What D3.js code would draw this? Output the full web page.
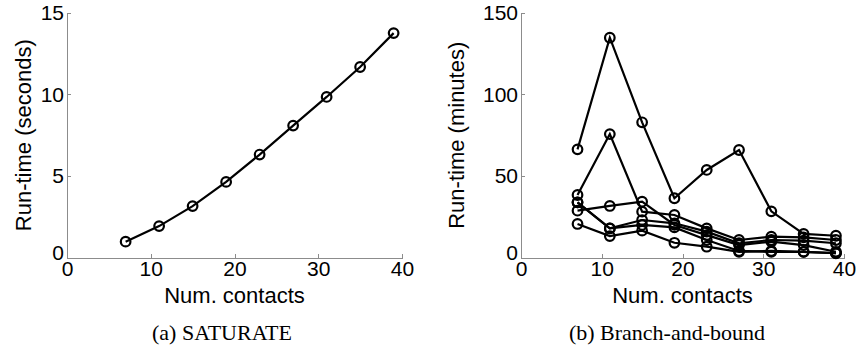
<!DOCTYPE html>
<html>
<head>
<meta charset="utf-8">
<script src="https://cdn.jsdelivr.net/npm/d3@7"></script>
<style>
  body { margin: 0; background: #fff; }
  svg { display: block; }
  .axis path, .axis line { stroke: #8c8c8c; stroke-width: 1; shape-rendering: crispEdges; }
  .axis text { font-family: "Liberation Sans", Arial, Helvetica, sans-serif; font-size: 21px; fill: #000; }
  .title { font-family: "Liberation Sans", Arial, Helvetica, sans-serif; font-size: 22px; fill: #000; }
  .caption { font-family: "Liberation Serif", "Times New Roman", serif; font-size: 22px; fill: #000; }
  .line { fill: none; stroke: #000; stroke-width: 2.2; }
  .dot { fill: none; stroke: #000; stroke-width: 2.2; }
</style>
</head>
<body>
<div id="chart"></div>
<script>
// number of contacts (shared x values)
const contacts = [7, 11, 15, 19, 23, 27, 31, 35, 39];

// (a) SATURATE run-time in seconds
const saturateSeconds = [1.0, 1.95, 3.17, 4.65, 6.32, 8.09, 9.84, 11.67, 13.74];

// (b) Branch-and-bound run-time in minutes, one array per run
const bnbRun1 = [66.4, 134.6, 82.9, 36.5, 53.8, 66.0, 28.5, 14.7, 13.6];
const bnbRun2 = [38.5, 75.7, 28.3, 26.3, 18.1, 11.0, 13.0, 12.6, 11.0];
const bnbRun3 = [34.0, 18.1, 23.2, 21.2, 16.1, 9.0, 11.0, 10.6, 9.0];
const bnbRun4 = [28.9, 31.8, 34.4, 20.2, 14.0, 7.9, 10.0, 7.9, 3.8];
const bnbRun5 = [34.0, 18.1, 20.2, 18.7, 11.0, 4.3, 3.8, 3.8, 2.9];
const bnbRun6 = [20.8, 13.4, 16.7, 9.3, 6.9, 3.8, 4.3, 3.8, 3.0];

const xTicks = [0, 10, 20, 30, 40];
const ySecTicks = [0, 5, 10, 15];
const yMinTicks = [0, 50, 100, 150];

const width = 857, height = 355;

const svg = d3.select('#chart')
    .append('svg')
    .attr('width', width)
    .attr('height', height);

function panel(opts) {
    const x = d3.scaleLinear().domain([0, 40]).range([opts.left, opts.right]);
    const y = d3.scaleLinear().domain(opts.yDomain).range([258, 12.5]);

    const g = svg.append('g');

    g.append('g')
        .classed('axis', true)
        .attr('transform', `translate(0,${y(0)})`)
        .call(d3.axisBottom(x).tickValues(xTicks).tickSizeInner(-4).tickSizeOuter(0).tickPadding(3));

    const yAxis = g.append('g')
        .classed('axis', true)
        .attr('transform', `translate(${x(0)},0)`)
        .call(d3.axisLeft(y).tickValues(opts.yTicks).tickSizeInner(-4).tickSizeOuter(0).tickPadding(3));
    // the zero label sits a little higher so it clears the x-axis zero
    yAxis.selectAll('.tick text')
        .filter(d => d === 0)
        .attr('dy', '0.05em');

    const line = d3.line()
        .x((d, i) => x(contacts[i]))
        .y(d => y(d));

    opts.series.forEach(s => {
        g.append('path')
            .classed('line', true)
            .attr('d', line(s));
    });
    opts.series.forEach(s => {
        g.selectAll(null)
            .data(s)
            .enter()
            .append('circle')
            .classed('dot', true)
            .attr('cx', (d, i) => x(contacts[i]))
            .attr('cy', d => y(d))
            .attr('r', 4.8);
    });

    g.append('text')
        .classed('title', true)
        .attr('text-anchor', 'middle')
        .attr('x', (opts.left + opts.right) / 2)
        .attr('y', 303)
        .text('Num. contacts');

    g.append('text')
        .classed('title', true)
        .attr('text-anchor', 'middle')
        .attr('transform', `translate(${opts.ytitleX},${(258 + 12.5) / 2}) rotate(-90)`)
        .text(opts.yTitle);

    g.append('text')
        .classed('caption', true)
        .attr('text-anchor', 'middle')
        .attr('x', opts.captionX)
        .attr('y', 340)
        .text(opts.caption);
}

panel({
    left: 67, right: 402,
    yDomain: [0, 15], yTicks: ySecTicks,
    series: [saturateSeconds],
    yTitle: 'Run-time (seconds)', ytitleX: 31,
    caption: '(a) SATURATE', captionX: 222
});

panel({
    left: 521, right: 844,
    yDomain: [0, 150], yTicks: yMinTicks,
    series: [bnbRun1, bnbRun2, bnbRun3, bnbRun4, bnbRun5, bnbRun6],
    yTitle: 'Run-time (minutes)', ytitleX: 464,
    caption: '(b) Branch-and-bound', captionX: 667
});
</script>
</body>
</html>
